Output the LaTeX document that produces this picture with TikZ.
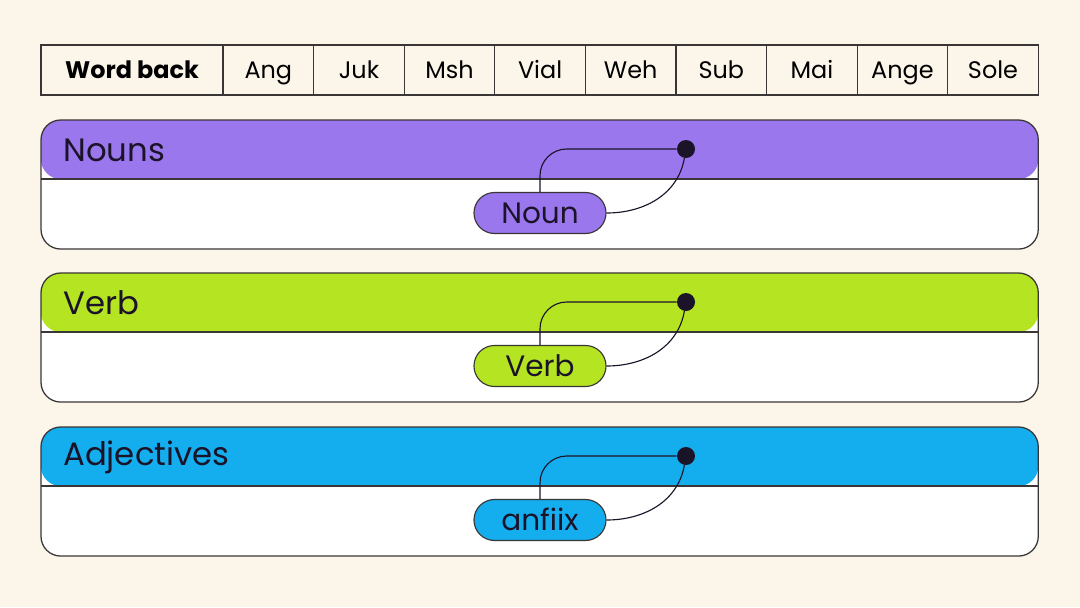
\documentclass[tikz,border=0pt]{standalone}
\usepackage{fontspec}
\setmainfont{Poppins}
\usetikzlibrary{positioning,shapes.misc}

\definecolor{paper}{HTML}{FBF5EA}
\definecolor{ink}{HTML}{1B1328}
\definecolor{edge}{HTML}{3A3636}
\definecolor{nounc}{HTML}{9B77EE}
\definecolor{verbc}{HTML}{B4E422}
\definecolor{adjc}{HTML}{14AEEF}

\begin{document}
\begin{tikzpicture}[
    x=0.025cm, y=-0.025cm,
    cell/.style={draw=edge, line width=0.8pt, fill=paper, minimum width=2.264cm,
      minimum height=1.25cm, inner sep=0pt, outer sep=0pt, text height=12pt, text depth=0pt,
      font=\fontsize{17}{20}\selectfont},
    panel/.style={draw=edge, line width=0.9pt, fill=white, rounded corners=14pt,
      minimum width=24.925cm, minimum height=3.225cm, inner sep=0pt, outer sep=0pt},
    header/.style={anchor=west, inner sep=0pt, text=ink, font=\fontsize{23}{27}\selectfont},
    pill/.style={rounded rectangle, draw=edge, line width=0.8pt, minimum width=3.3cm,
      minimum height=1.025cm, inner sep=0pt, text height=14.7pt, text depth=0pt,
      text=ink, font=\fontsize{21}{25}\selectfont},
    dot/.style={circle, fill=ink, inner sep=0pt, minimum size=0.45cm},
    link/.style={draw=ink, line width=0.8pt}
    ]
    \useasboundingbox[fill=paper] (0,0) rectangle (1080,607);

    % table of word classes
    \node[cell, minimum width=4.55cm, anchor=west, font=\fontsize{17}{20}\selectfont\bfseries]
      (wordback) at (41,70) {Word back};
    \foreach \w [count=\i, remember=\i as \j (initially 0)] in {Ang,Juk,Msh,Vial,Weh,Sub,Mai,Ange,Sole}{
      \ifnum\i=1
        \node[cell, right=0pt of wordback] (c\i) {\w};
      \else
        \node[cell, right=0pt of c\j] (c\i) {\w};
      \fi
    }

    % panels
    \foreach \top/\name/\word/\col/\id in {120/Nouns/Noun/nounc/noun, 273/Verb/Verb/verbc/verb,
        427/Adjectives/anfiix/adjc/adj}{
      \node[panel, anchor=north west,
        path picture={
          \fill[\col] (path picture bounding box.north west) rectangle
            ([yshift=-1.475cm]path picture bounding box.north east);
          \draw[edge, line width=0.9pt] ([yshift=-1.475cm]path picture bounding box.north west) --
            ([yshift=-1.475cm]path picture bounding box.north east);
        }] (\id box) at (41,\top) {};
      \node[header] (\id title) at (63,\top+30) {\name};
      \node[pill, fill=\col] (\id pill) at (540,\top+93) {\word};
      \node[dot] (\id dot) at (686,\top+29) {};
      \draw[link, rounded corners=19pt] (\id pill.north) |- (\id dot);
      \draw[link] (\id pill.east) to[out=0, in=-100] (\id dot);
    }
\end{tikzpicture}
\end{document}
